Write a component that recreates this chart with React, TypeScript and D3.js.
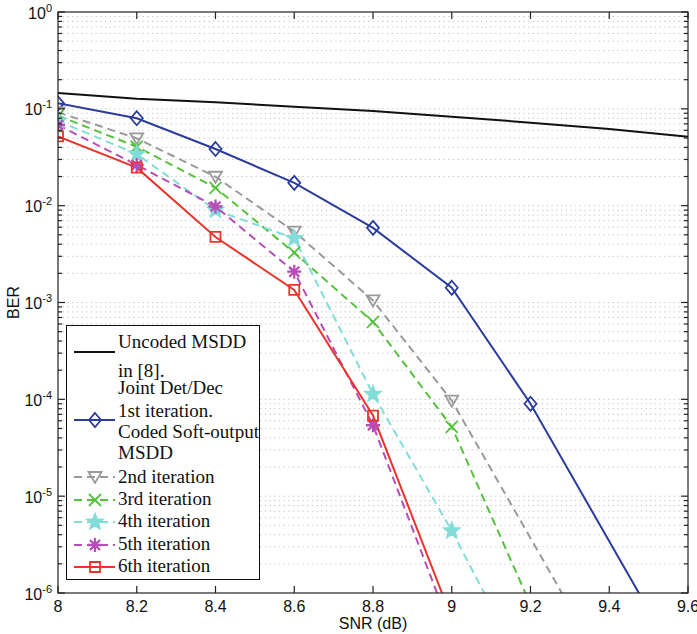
import React from 'react';
import * as d3 from 'd3';

// SNR grid (dB) and BER values
const snrUncoded = [8, 8.2, 8.4, 8.6, 8.8, 9.0, 9.2, 9.4, 9.6];
const berUncoded = [0.146, 0.127, 0.117, 0.105, 0.095, 0.083, 0.072, 0.062, 0.0515];

const snrIter1 = [8, 8.2, 8.4, 8.6, 8.8, 9.0, 9.2, 9.6];
const berIter1 = [0.114, 0.080, 0.0385, 0.0172, 0.0059, 0.00142, 9.0e-5, 1.3e-7];

const snrIter2 = [8, 8.2, 8.4, 8.6, 8.8, 9.0, 9.4];
const berIter2 = [0.092, 0.0496, 0.0199, 0.0054, 0.00105, 9.7e-5, 1.4e-7];

const snrIter3 = [8, 8.2, 8.4, 8.6, 8.8, 9.0, 9.2];
const berIter3 = [0.085, 0.0406, 0.0153, 0.00327, 6.3e-4, 5.2e-5, 7.6e-7];

const snrIter4 = [8, 8.2, 8.4, 8.6, 8.8, 9.0, 9.2];
const berIter4 = [0.075, 0.0341, 0.009, 0.0046, 1.13e-4, 4.4e-6, 1.2e-7];

const snrIter5 = [8, 8.2, 8.4, 8.6, 8.8, 9.0];
const berIter5 = [0.068, 0.0263, 0.0098, 0.00208, 5.4e-5, 4e-7];

const snrIter6 = [8, 8.2, 8.4, 8.6, 8.8, 9.0];
const berIter6 = [0.052, 0.0247, 0.00475, 0.00135, 6.8e-5, 5.5e-7];

const xTicks = [8, 8.2, 8.4, 8.6, 8.8, 9, 9.2, 9.4, 9.6];
const yDecades = [0, -1, -2, -3, -4, -5, -6];

const legendText = [
  'Uncoded MSDD', 'in [8].', 'Joint Det/Dec', '1st iteration.', 'Coded Soft-output',
  'MSDD', '2nd iteration', '3rd iteration', '4th iteration', '5th iteration', '6th iteration',
];

type Series = {
  xs: number[]; ys: number[]; color: string; dash?: string; marker: string | null;
};

const series: Series[] = [
  { xs: snrUncoded, ys: berUncoded, color: '#111111', marker: null },
  { xs: snrIter1, ys: berIter1, color: '#2b3c9c', marker: 'diamond' },
  { xs: snrIter2, ys: berIter2, color: '#9a9a9a', dash: '8,5', marker: 'triangle' },
  { xs: snrIter3, ys: berIter3, color: '#55c23c', dash: '8,5', marker: 'x' },
  { xs: snrIter4, ys: berIter4, color: '#82dcd8', dash: '8,5', marker: 'star' },
  { xs: snrIter5, ys: berIter5, color: '#b84db8', dash: '8,5', marker: 'asterisk' },
  { xs: snrIter6, ys: berIter6, color: '#e8342b', marker: 'square' },
];

const starPath = (() => {
  const pts: string[] = [];
  for (let i = 0; i < 10; i++) {
    const r = i % 2 === 0 ? 8 : 3.4;
    const a = -Math.PI / 2 + (i * Math.PI) / 5;
    pts.push(`${(r * Math.cos(a)).toFixed(2)},${(r * Math.sin(a)).toFixed(2)}`);
  }
  return 'M' + pts.join('L') + 'Z';
})();

const markerPath: Record<string, string> = {
  diamond: 'M0,-7L6,0L0,7L-6,0Z',
  triangle: 'M-6.5,-5L6.5,-5L0,6Z',
  x: 'M-6,-6L6,6M-6,6L6,-6',
  star: starPath,
  asterisk: 'M-7,0L7,0M0,-7L0,7M-5,-5L5,5M-5,5L5,-5',
  square: 'M-5,-5L5,-5L5,5L-5,5Z',
};

const W = 697;
const H = 634;
const left = 58, right = 688, top = 12, bottom = 593;

export default function App() {
  const x = d3.scaleLinear().domain([8, 9.6]).range([left, right]);
  const y = d3.scaleLog().domain([1e-6, 1]).range([bottom, top]);

  const line = d3.line<[number, number]>()
    .x(d => x(d[0]))
    .y(d => y(d[1]));

  const minorTicks: number[] = [];
  yDecades.slice(1).forEach(e => {
    for (let m = 2; m <= 9; m++) minorTicks.push(m * Math.pow(10, e));
  });

  const legX = 66.5, legY = 325.5;
  const textOffsets = [22.5, 51, 68.5, 91, 112.5, 133.5, 157.5, 179.5, 201.5, 224.5, 246.5];
  const sampleOffsets = [26.5, 94.5, 151.5, 174.5, 196.5, 219.5, 241.5];

  const drawMarker = (s: Series, cx: number, cy: number, k: string) => (
    s.marker ? (
      <path key={k} d={markerPath[s.marker]} transform={`translate(${cx},${cy})`}
        fill={s.marker === 'star' ? s.color : 'none'} stroke={s.color}
        strokeWidth={s.marker === 'asterisk' ? 2.3 : 1.8} strokeLinejoin="miter" />
    ) : null
  );

  return (
    <svg width={W} height={H} style={{ position: 'absolute', left: 0, top: 0, background: '#fff' }}
      fontFamily="'Liberation Sans', Arial, sans-serif">
      <defs>
        <clipPath id="plot-clip">
          <rect x={left} y={top} width={right - left} height={bottom - top} />
        </clipPath>
      </defs>
      <rect x={0} y={0} width={W} height={H} fill="#fff" />

      {/* horizontal dotted grid */}
      <g stroke="#c4c4c4" strokeWidth={1} strokeDasharray="1.3,3.4">
        {minorTicks.concat(yDecades.slice(1, -1).map(e => Math.pow(10, e))).map((v, i) => (
          <line key={i} x1={left} x2={right} y1={y(v)} y2={y(v)} />
        ))}
      </g>

      {/* curves */}
      <g clipPath="url(#plot-clip)">
        {series.map((s, i) => (
          <path key={i} d={line(s.xs.map((v, j) => [v, s.ys[j]] as [number, number])) || ''}
            fill="none" stroke={s.color} strokeWidth={2} strokeDasharray={s.dash} />
        ))}
        {series.map((s, i) =>
          s.xs.map((v, j) => s.ys[j] >= 1e-6 ? drawMarker(s, x(v), y(s.ys[j]), `m${i}-${j}`) : null)
        )}
      </g>

      {/* axes box and ticks */}
      <g stroke="#222" strokeWidth={1.2}>
        <rect x={left} y={top} width={right - left} height={bottom - top} fill="none" />
        {xTicks.map((t, i) => (
          <g key={i}>
            <line x1={x(t)} x2={x(t)} y1={bottom} y2={bottom - 7} />
            <line x1={x(t)} x2={x(t)} y1={top} y2={top + 7} />
          </g>
        ))}
        {yDecades.map((e, i) => (
          <g key={i}>
            <line x1={left} x2={left + 7} y1={y(Math.pow(10, e))} y2={y(Math.pow(10, e))} />
            <line x1={right} x2={right - 7} y1={y(Math.pow(10, e))} y2={y(Math.pow(10, e))} />
          </g>
        ))}
        {minorTicks.map((v, i) => (
          <g key={i}>
            <line x1={left} x2={left + 4} y1={y(v)} y2={y(v)} />
            <line x1={right} x2={right - 4} y1={y(v)} y2={y(v)} />
          </g>
        ))}
      </g>

      {/* tick labels */}
      <g fontSize={16} fill="#111" textAnchor="middle">
        {xTicks.map((t, i) => (
          <text key={i} x={x(t)} y={611.5}>{d3.format('~g')(t)}</text>
        ))}
      </g>
      <g fill="#111" textAnchor="end">
        {yDecades.map((e, i) => (
          <text key={i} x={52} y={y(Math.pow(10, e)) + 6.5} fontSize={16}>
            <tspan>10</tspan>
            <tspan dy={-7} fontSize={11}>{e === 0 ? '0' : `-${-e}`}</tspan>
          </text>
        ))}
      </g>
      <text x={(left + right) / 2} y={629} fontSize={16} textAnchor="middle" fill="#111">SNR (dB)</text>
      <text transform={`translate(19,${(top + bottom) / 2}) rotate(-90)`} fontSize={16}
        textAnchor="middle" fill="#111">BER</text>

      {/* legend */}
      <g>
        <rect x={legX} y={legY} width={193} height={254} fill="#fff" stroke="#111" strokeWidth={1} />
        {series.map((s, i) => {
          const sy = legY + sampleOffsets[i];
          return (
            <g key={i}>
              <line x1={74} x2={115} y1={sy} y2={sy} stroke={s.color} strokeWidth={2}
                strokeDasharray={s.dash} />
              {drawMarker(s, 95, sy, `l${i}`)}
            </g>
          );
        })}
        <g fontFamily="'Liberation Serif', 'Times New Roman', serif" fontSize={19} fill="#111">
          {legendText.map((t, i) => (
            <text key={i} x={118} y={legY + textOffsets[i]}>{t}</text>
          ))}
        </g>
      </g>
    </svg>
  );
}
